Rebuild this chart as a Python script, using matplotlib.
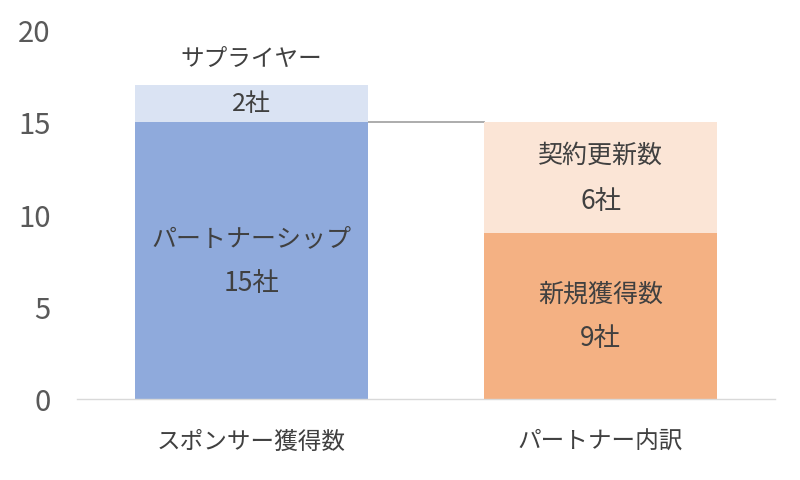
import matplotlib
matplotlib.use("Agg")
import matplotlib.pyplot as plt

plt.rcParams['font.family'] = ['Noto Sans CJK JP', 'DejaVu Sans']

categories = ['スポンサー獲得数', 'パートナー内訳']
bottom_values = [15, 9]
top_values = [2, 6]
bottom_names = ['パートナーシップ', '新規獲得数']
top_names = ['サプライヤー', '契約更新数']
unit = '社'
yticks = [0, 5, 10, 15, 20]

bottom_colors = ['#8FAADC', '#F4B183']
top_colors = ['#DAE3F3', '#FBE5D6']
text_color = '#404040'
bar_width = 0.668

fig = plt.figure(figsize=(8.0, 4.81), dpi=100)
ax = fig.add_axes([0.09625, 0.1684, 0.8725, 0.7692])

x = list(range(len(categories)))
ax.bar(x, bottom_values, width=bar_width, color=bottom_colors, zorder=2)
ax.bar(x, top_values, width=bar_width, bottom=bottom_values, color=top_colors, zorder=2)

# connector line between bars
ax.plot([x[0] + bar_width / 2, x[1] - bar_width / 2],
        [bottom_values[0], bottom_values[0]], color='#A6A6A6', lw=1.3, zorder=1)

fs = 18
off = 16
for i in x:
    mid = bottom_values[i] / 2
    ax.annotate(bottom_names[i], (i, mid), xytext=(0, off), textcoords='offset points',
                ha='center', va='center', fontsize=fs, color=text_color)
    ax.annotate(f'{bottom_values[i]}{unit}', (i, mid), xytext=(0, -off), textcoords='offset points',
                ha='center', va='center', fontsize=fs + 1, color=text_color)
    mid = bottom_values[i] + top_values[i] / 2
    if top_values[i] >= 4:
        ax.annotate(top_names[i], (i, mid), xytext=(0, off), textcoords='offset points',
                    ha='center', va='center', fontsize=fs, color=text_color)
        ax.annotate(f'{top_values[i]}{unit}', (i, mid), xytext=(0, -off - 1), textcoords='offset points',
                    ha='center', va='center', fontsize=fs + 1, color=text_color)
    else:
        top = bottom_values[i] + top_values[i]
        ax.annotate(top_names[i], (i, top), xytext=(0, 19), textcoords='offset points',
                    ha='center', va='center', fontsize=fs - 1, color=text_color)
        ax.annotate(f'{top_values[i]}{unit}', (i, mid), xytext=(0, 0), textcoords='offset points',
                    ha='center', va='center', fontsize=fs, color=text_color)

ax.set_xlim(-0.5, 1.5)
ax.set_ylim(0, 20)
ax.set_yticks(yticks)
ax.set_yticklabels([str(t) for t in yticks])
ax.set_xticks(x)
ax.set_xticklabels(categories)
ax.tick_params(axis='y', length=0, pad=19, labelsize=21, labelcolor='#595959')
ax.tick_params(axis='x', length=0, pad=22, labelsize=17, labelcolor=text_color)
for s in ['left', 'right', 'top']:
    ax.spines[s].set_visible(False)
ax.spines['bottom'].set_color('#D9D9D9')
ax.spines['bottom'].set_linewidth(1.0)

fig.savefig('out.png', dpi=100)
